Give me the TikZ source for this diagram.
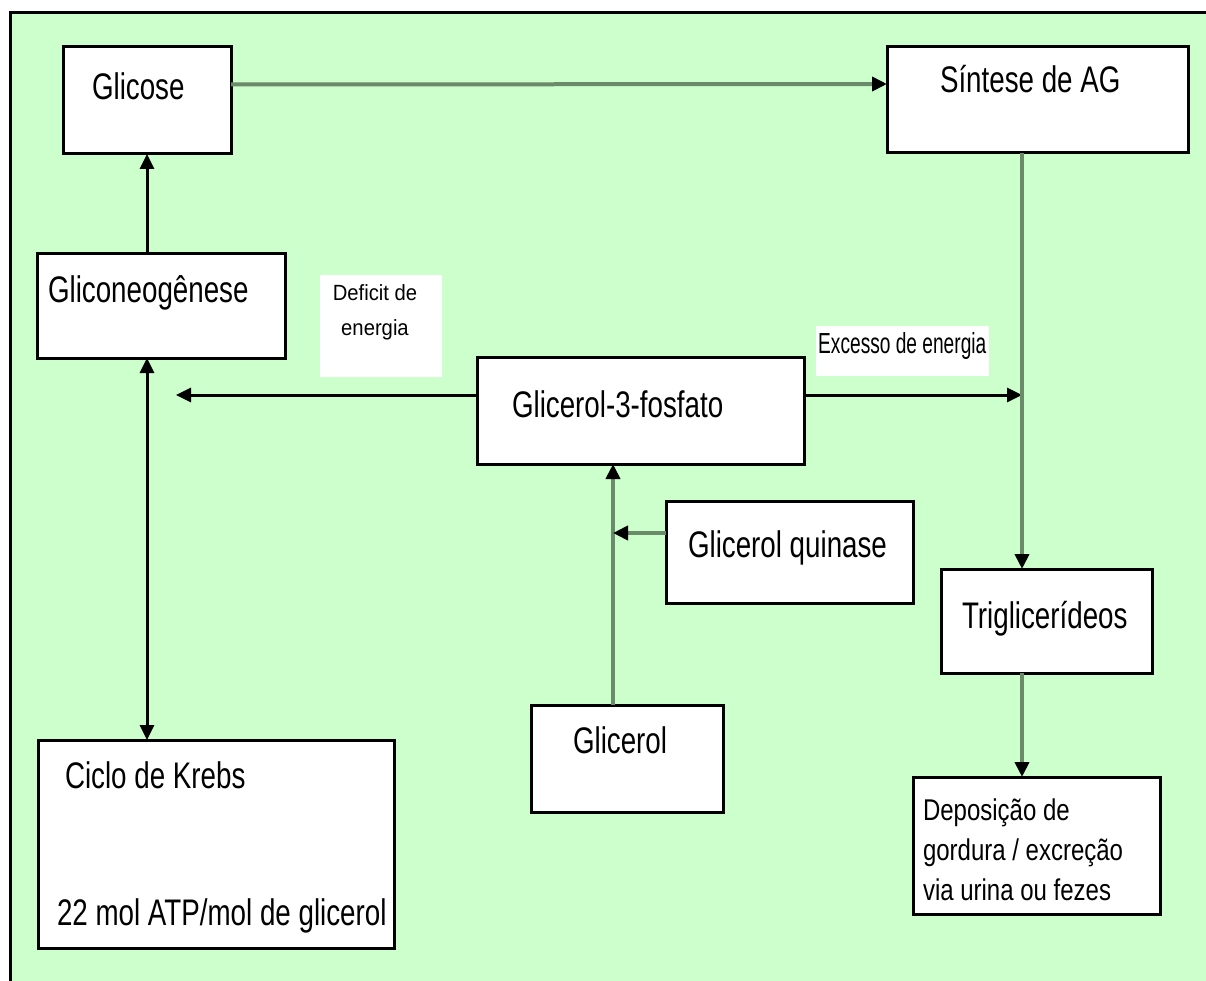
\documentclass[tikz,border=0pt]{standalone}
\usepackage{fontspec}
\setmainfont{Liberation Sans}
\newfontfamily\narrowA{Liberation Sans}[FakeStretch=0.75]
\newfontfamily\narrowB{Liberation Sans}[FakeStretch=0.8]
\newfontfamily\narrowC{Liberation Sans}[FakeStretch=0.92]
\newfontfamily\narrowD{Liberation Sans}[FakeStretch=0.66]
\usetikzlibrary{arrows.meta}
\definecolor{bggreen}{HTML}{CCFFCC}
\definecolor{linegray}{HTML}{6A8A6A}
\newcommand\fA{\narrowA\fontsize{37}{44}\selectfont}
\newcommand\fB{\narrowB\fontsize{30}{40}\selectfont}
\newcommand\fC{\narrowC\fontsize{22}{35}\selectfont}
\newcommand\fD{\narrowD\fontsize{29}{35}\selectfont}
\tikzset{
  box/.style={draw=black, fill=white, line width=3pt, inner sep=0pt, outer sep=0pt},
  lab/.style={fill=white, inner sep=0pt, outer sep=0pt},
  txt/.style={anchor=base west, inner sep=0pt, outer sep=0pt, font=\fA},
  tip/.style={-{Triangle[length=15pt,width=14pt,color=black]}},
  blk/.style={draw=black, line width=3pt},
  gry/.style={draw=linegray, line width=4pt},
}
\begin{document}
\begin{tikzpicture}[x=1pt,y=-1pt]
\useasboundingbox (0,0) rectangle (1206,981);
\begin{scope}
\clip (0,0) rectangle (1206,981);
\fill[bggreen] (10,13) rectangle (1230,1000);
\draw[line width=3pt] (10,1000) -- (10,13) -- (1230,13);
\end{scope}

% boxes
\node[box, minimum width=168, minimum height=107] (glicose) at (147,100.5) {};
\node[box, minimum width=301, minimum height=106] (sintese) at (1037.5,100) {};
\node[box, minimum width=248, minimum height=104] (glicon) at (161,306) {};
\node[box, minimum width=327, minimum height=107] (g3p) at (640.5,410.5) {};
\node[box, minimum width=247, minimum height=102] (quinase) at (789.5,552) {};
\node[box, minimum width=211, minimum height=104] (trig) at (1046.5,621) {};
\node[box, minimum width=192, minimum height=107] (glicerol) at (627,758.5) {};
\node[box, minimum width=356, minimum height=208] (krebs) at (216,844) {};
\node[box, minimum width=247, minimum height=137] (depos) at (1036.5,845.5) {};

% white label backgrounds
\node[lab, minimum width=122, minimum height=102] (defbg) at (381,326) {};
\node[lab, minimum width=173, minimum height=50] (excbg) at (902.5,351) {};

% texts
\node[txt] (tglicose) at (92,100) {Glicose};
\node[txt] (tsintese) at (940,93) {Síntese de AG};
\node[txt] (tglicon) at (48,302) {Gliconeogênese};
\node[txt] (tg3p) at (512,417) {Glicerol-3-fosfato};
\node[txt] (tquinase) at (688,557) {Glicerol quinase};
\node[txt] (ttrig) at (962,628) {Triglicerídeos};
\node[txt] (tglicerol) at (573,753) {Glicerol};
\node[txt] (tkrebs) at (65,788) {Ciclo de Krebs};
\node[txt] (tatp) at (57,925) {22 mol ATP/mol de glicerol};
\node[txt, font=\fB, align=left] (tdepos) at (923,900) {Deposição de\\gordura / excreção\\via urina ou fezes};
\node[anchor=base, inner sep=0pt, font=\fC, align=center] (tdef) at (375,335) {Deficit de\\energia};
\node[anchor=base west, inner sep=0pt, font=\fD] (texc) at (818,353) {Excesso de energia};

% coordinates
\coordinate (vx) at (1022,0);
\coordinate (gx) at (613,0);
\coordinate (defend) at (176,395);
\coordinate (excend) at (1022,395);
\coordinate (qj) at (613,533);

% connectors
\draw[gry, tip] ([yshift=16pt]glicose.east) -- ([yshift=16pt]sintese.west);
\draw[blk, tip] (glicose.south |- glicon.north) -- (glicose.south);
\draw[blk, {Triangle[length=15pt,width=14pt]}-{Triangle[length=15pt,width=14pt]}] (glicose.south |- glicon.south) -- (glicose.south |- krebs.north);
\draw[blk, tip] ([yshift=15.5pt]g3p.west) -- (defend);
\draw[blk, tip] ([yshift=15.5pt]g3p.east) -- (excend);
\draw[gry, tip] (vx |- sintese.south) -- (vx |- trig.north);
\draw[gry, tip] (vx |- trig.south) -- (vx |- depos.north);
\draw[gry, tip] (gx |- glicerol.north) -- (gx |- g3p.south);
\draw[gry, tip] (quinase.west |- qj) -- (qj);
\end{tikzpicture}
\end{document}
